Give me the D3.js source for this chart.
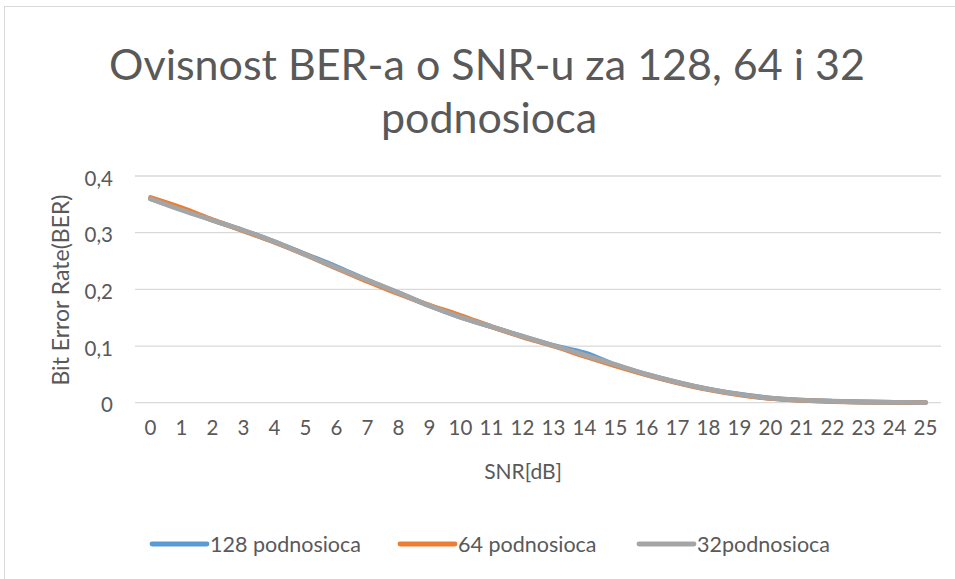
<!DOCTYPE html>
<meta charset="utf-8">
<style>
  body { margin: 0; background: #fff; }
  text { font-family: 'Lato', 'Noto Sans', sans-serif; fill: #595959; }
  .grid line { stroke: #d9d9d9; stroke-width: 1.3; }
  .axis path { display: none; }
  .axis line { display: none; }
  .line { fill: none; stroke-width: 4.8; stroke-linecap: round; stroke-linejoin: round; }
</style>
<body>
<script src="https://cdn.jsdelivr.net/npm/d3@7"></script>
<script>

// SNR categories and BER per number of subcarriers
var snr = d3.range(0, 26);
var ber128 = [0.360,0.341,0.322,0.304,0.284,0.262,0.240,0.216,0.194,0.171,0.151,0.134,0.117,0.101,0.088,0.067,0.050,0.036,0.024,0.015,0.008,0.0045,0.0025,0.0012,0.0006,0.0003];
var ber64  = [0.362,0.344,0.323,0.303,0.283,0.261,0.237,0.214,0.192,0.172,0.154,0.134,0.116,0.100,0.082,0.065,0.049,0.035,0.023,0.014,0.0075,0.004,0.002,0.001,0.0005,0.0002];
var ber32  = [0.360,0.340,0.322,0.304,0.284,0.261,0.238,0.216,0.194,0.171,0.151,0.134,0.117,0.101,0.084,0.067,0.050,0.036,0.024,0.0145,0.008,0.0044,0.0026,0.0012,0.0006,0.0003];
var seriesNames = ["128 podnosioca", "64 podnosioca", "32podnosioca"];
var yTicks = [0, 0.1, 0.2, 0.3, 0.4];

var colors = ["#5b9bd5", "#ed7d31", "#a5a5a5"];
var series = [ber128, ber64, ber32];

var W = 955, H = 579;
var svg = d3.select("body").append("svg")
    .attr("width", W)
    .attr("height", H);

// chart frame
svg.append("rect")
    .attr("x", 4.5).attr("y", 6.5)
    .attr("width", 1000).attr("height", 1000)
    .attr("fill", "none").attr("stroke", "#d9d9d9");

var x = d3.scaleBand().domain(snr).range([135, 941]);
var y = d3.scaleLinear().domain([0, 0.4]).range([402.7, 176]);

// title
svg.append("text").attr("x", 487).attr("y", 80)
    .attr("text-anchor", "middle").style("font-size", "43px")
    .text("Ovisnost BER-a o SNR-u za 128, 64 i 32");
svg.append("text").attr("x", 489).attr("y", 133)
    .attr("text-anchor", "middle").style("font-size", "43px")
    .text("podnosioca");

// gridlines
svg.append("g").attr("class", "grid")
  .selectAll("line")
  .data(yTicks)
  .enter().append("line")
    .attr("x1", 135).attr("x2", 941)
    .attr("y1", function(d) { return y(d); })
    .attr("y2", function(d) { return y(d); });

// y axis labels
svg.append("g")
    .attr("class", "axis")
    .attr("transform", "translate(113,0)")
    .call(d3.axisLeft(y).tickValues(yTicks).tickSize(0).tickPadding(0)
      .tickFormat(function(d) { return d === 0 ? "0" : d3.format(".1f")(d).replace(".", ","); }))
  .selectAll("text")
    .style("font-size", "20.5px")
    .attr("dy", "0.45em");

// x axis labels
svg.append("g")
    .attr("class", "axis")
    .attr("transform", "translate(0,420)")
    .call(d3.axisBottom(x).tickSize(0).tickPadding(0))
  .selectAll("text")
    .style("font-size", "20.5px")
    .attr("dy", "0.75em");

// axis titles
svg.append("text").attr("x", 523).attr("y", 479)
    .attr("text-anchor", "middle").style("font-size", "21px")
    .text("SNR[dB]");
svg.append("text")
    .attr("transform", "translate(69,290) rotate(-90)")
    .attr("text-anchor", "middle").style("font-size", "23px")
    .text("Bit Error Rate(BER)");

// lines
var line = d3.line()
    .x(function(d, i) { return x(snr[i]) + x.bandwidth() / 2; })
    .y(function(d) { return y(d); })
    .curve(d3.curveCatmullRom.alpha(0.5));

svg.selectAll(".line")
    .data(series)
  .enter().append("path")
    .attr("class", "line")
    .attr("stroke", function(d, i) { return colors[i]; })
    .attr("d", line);

// legend
var legendX = [152, 400, 639];
var leg = svg.selectAll(".legend")
    .data(seriesNames)
  .enter().append("g")
    .attr("class", "legend")
    .attr("transform", function(d, i) { return "translate(" + legendX[i] + ",544)"; });
leg.append("line")
    .attr("x1", 0).attr("x2", 55)
    .attr("stroke", function(d, i) { return colors[i]; })
    .attr("stroke-width", 4.8)
    .attr("stroke-linecap", "round");
leg.append("text")
    .attr("x", 58).attr("dy", "0.35em")
    .style("font-size", "21.5px")
    .text(function(d) { return d; });

</script>
</body>
